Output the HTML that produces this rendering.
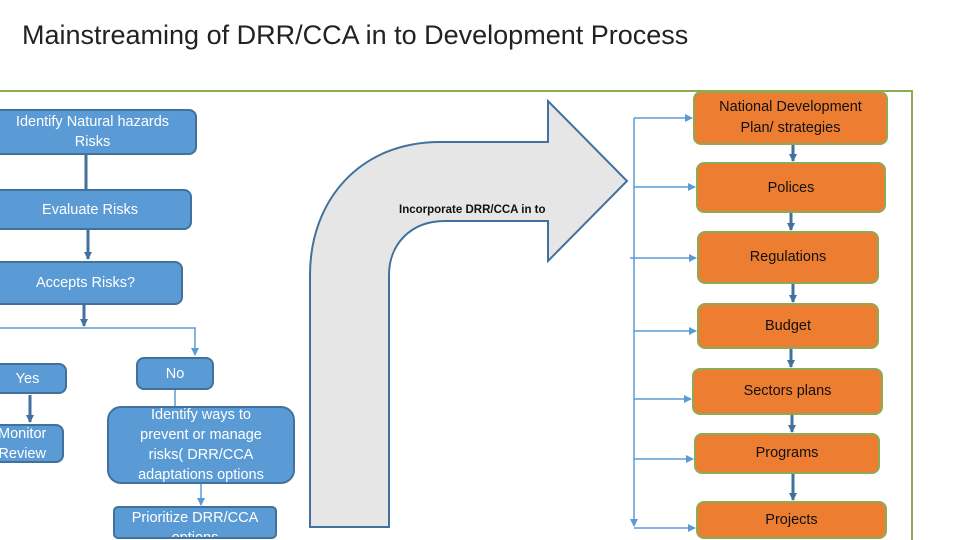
<!DOCTYPE html>
<html><head><style>
body{margin:0;width:960px;height:540px;overflow:hidden;background:#fff;position:relative;font-family:"Liberation Sans",sans-serif}
.b{position:absolute;box-sizing:border-box;background:#5B9BD5;border:2px solid #41719C;border-radius:8px;color:#fff;font-size:14.5px;display:flex;align-items:center;justify-content:center;text-align:center;line-height:20px}
.o{position:absolute;box-sizing:border-box;background:#ED7D31;border:2px solid #8FAA55;border-radius:8px;color:#111;font-size:14.5px;display:flex;align-items:center;justify-content:center;text-align:center;line-height:21px}
</style></head><body>
<div style="position:absolute;left:22px;top:20px;font-size:27px;color:#222">Mainstreaming of DRR/CCA in to Development Process</div>
<svg width="960" height="540" style="position:absolute;left:0;top:0">
<defs><marker id="a" markerWidth="8" markerHeight="8" refX="7" refY="4" orient="auto" markerUnits="userSpaceOnUse"><path d="M0,0L8,4L0,8z" fill="#5B9BD5"/></marker>
<marker id="d" markerWidth="8" markerHeight="8" refX="7" refY="4" orient="auto" markerUnits="userSpaceOnUse"><path d="M0,0L8,4L0,8z" fill="#41719C"/></marker></defs>
<path d="M0,91H912V540" fill="none" stroke="#8FAA55" stroke-width="2"/>
<path d="M310,527V275C310,200 360,142 440,142H548V101L627,181L548,261V221H445C410,221 389,245 389,275V527Z" fill="#E6E6E6" stroke="#41719C" stroke-width="2"/>
<text x="399" y="213" font-size="11.5" font-weight="bold" fill="#111" font-family="Liberation Sans">Incorporate DRR/CCA in to</text>
<g stroke="#41719C" stroke-width="3">
<line x1="86" y1="155" x2="86" y2="189"/>
<line x1="88" y1="230" x2="88" y2="259" marker-end="url(#d)"/>
<line x1="84" y1="305" x2="84" y2="326" marker-end="url(#d)"/>
<line x1="30" y1="395" x2="30" y2="422" marker-end="url(#d)"/>
<line x1="793" y1="145" x2="793" y2="161" marker-end="url(#d)"/>
<line x1="791" y1="213" x2="791" y2="230" marker-end="url(#d)"/>
<line x1="793" y1="284" x2="793" y2="302" marker-end="url(#d)"/>
<line x1="791" y1="349" x2="791" y2="367" marker-end="url(#d)"/>
<line x1="792" y1="415" x2="792" y2="432" marker-end="url(#d)"/>
<line x1="793" y1="474" x2="793" y2="500" marker-end="url(#d)"/>
</g>
<g stroke="#5B9BD5" stroke-width="1.5" fill="none">
<path d="M0,328H195V355" marker-end="url(#a)"/>
<line x1="175" y1="390" x2="175" y2="406"/>
<line x1="201" y1="484" x2="201" y2="505" marker-end="url(#a)"/>
<line x1="634" y1="118" x2="634" y2="526" marker-end="url(#a)"/>
<line x1="634" y1="118" x2="692" y2="118" marker-end="url(#a)"/>
<line x1="634" y1="187" x2="695" y2="187" marker-end="url(#a)"/>
<line x1="630" y1="258" x2="696" y2="258" marker-end="url(#a)"/>
<line x1="634" y1="331" x2="696" y2="331" marker-end="url(#a)"/>
<line x1="634" y1="399" x2="691" y2="399" marker-end="url(#a)"/>
<line x1="634" y1="459" x2="693" y2="459" marker-end="url(#a)"/>
<line x1="634" y1="528" x2="695" y2="528" marker-end="url(#a)"/>
</g>
</svg>
<div class="b" style="left:-12px;top:109px;width:209px;height:46px">Identify Natural hazards<br>Risks</div>
<div class="b" style="left:-12px;top:189px;width:204px;height:41px">Evaluate Risks</div>
<div class="b" style="left:-12px;top:261px;width:195px;height:44px">Accepts Risks?</div>
<div class="b" style="left:-12px;top:363px;width:79px;height:31px">Yes</div>
<div class="b" style="left:136px;top:357px;width:78px;height:33px">No</div>
<div class="b" style="left:-12px;top:424px;width:76px;height:39px;justify-content:flex-start;padding-left:8px">Monitor<br>Review</div>
<div class="b" style="left:107px;top:406px;width:188px;height:78px;border-radius:14px">Identify ways to<br>prevent or manage<br>risks( DRR/CCA<br>adaptations options</div>
<div class="b" style="left:113px;top:506px;width:164px;height:33px;overflow:hidden;align-items:flex-start;line-height:20px;border-radius:5px">Prioritize DRR/CCA<br>options</div>
<div class="o" style="left:693px;top:91px;width:195px;height:54px">National Development<br>Plan/ strategies</div>
<div class="o" style="left:696px;top:162px;width:190px;height:51px;align-items:flex-start;padding-top:14px">Polices</div>
<div class="o" style="left:697px;top:231px;width:182px;height:53px">Regulations</div>
<div class="o" style="left:697px;top:303px;width:182px;height:46px">Budget</div>
<div class="o" style="left:692px;top:368px;width:191px;height:47px">Sectors plans</div>
<div class="o" style="left:694px;top:433px;width:186px;height:41px">Programs</div>
<div class="o" style="left:696px;top:501px;width:191px;height:38px">Projects</div>
</body></html>
